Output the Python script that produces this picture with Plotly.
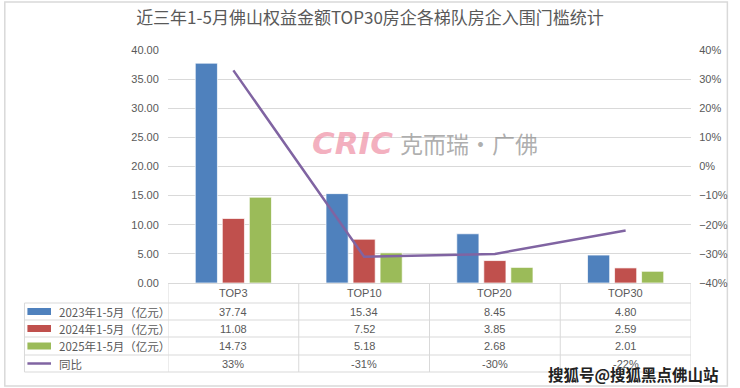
import plotly.graph_objects as go

categories = ["TOP3", "TOP10", "TOP20", "TOP30"]
series_names = ["2023年1-5月（亿元）", "2024年1-5月（亿元）", "2025年1-5月（亿元）"]
v2023 = [37.74, 15.34, 8.45, 4.80]
v2024 = [11.08, 7.52, 3.85, 2.59]
v2025 = [14.73, 5.18, 2.68, 2.01]
yoy = [0.33, -0.31, -0.30, -0.22]
yoy_name = "同比"
title = "近三年1-5月佛山权益金额TOP30房企各梯队房企入围门槛统计"

colors = ["#4F81BD", "#C0504D", "#9BBB59"]
line_color = "#8064A2"
grid = "#D9D9D9"
txt = "#595959"
FONT = "Liberation Sans, Noto Sans CJK SC, sans-serif"
CJK = "Noto Sans CJK SC, sans-serif"

W, H = 740, 388
L, R, T, B = 168, 40, 50, 105
PW, PH = W - L - R, H - T - B


def px(x):
    return (x - L) / PW


def py(y):
    return (H - B - y) / PH


fig = go.Figure()
for name, vals, c in zip(series_names, [v2023, v2024, v2025], colors):
    fig.add_trace(go.Bar(x=categories, y=vals, name=name, marker=dict(color=c, line=dict(color="rgba(255,255,255,0.7)", width=1)),
                         showlegend=False))
fig.add_trace(go.Scatter(x=categories, y=yoy, name=yoy_name, mode="lines", yaxis="y2",
                         line=dict(color=line_color, width=2.5), showlegend=False))

shapes = []
annotations = []


def note(x, y, text, size, family, color=txt, xref="paper", xanchor="center"):
    annotations.append(dict(x=x, xref=xref, y=y, yref="paper", text=text, showarrow=False,
                            xanchor=xanchor, yanchor="middle", font=dict(size=size, color=color, family=family)))


# table grid
row_lines = [303, 320, 337, 355, 372]
for yl in row_lines:
    shapes.append(dict(type="line", xref="paper", yref="paper", x0=px(22), x1=1, y0=py(yl), y1=py(yl),
                       line=dict(color=grid, width=1)))
shapes.append(dict(type="line", xref="paper", yref="paper", x0=px(22), x1=px(22), y0=py(303), y1=py(372),
                   line=dict(color=grid, width=1)))
for i in range(len(categories) + 1):
    shapes.append(dict(type="line", xref="x", yref="paper", x0=i - 0.5, x1=i - 0.5, y0=0, y1=py(372),
                       line=dict(color=grid, width=1)))

# header
for c in categories:
    note(c, py(293), c, 11, FONT, xref="x")
row_centers = [311.5, 328.5, 346, 363.5]
all_rows = [v2023, v2024, v2025]
for r, (name, vals, c) in enumerate(zip(series_names, all_rows, colors)):
    yc = row_centers[r]
    shapes.append(dict(type="rect", xref="paper", yref="paper", x0=px(25), x1=px(49), y0=py(yc - 3.5), y1=py(yc + 3.5),
                       fillcolor=c, line=dict(width=0)))
    note(px(55), py(yc), name, 11.5, CJK, xanchor="left")
    for cat, v in zip(categories, vals):
        note(cat, py(yc), f"{v:.2f}", 11, FONT, xref="x")
yc = row_centers[3]
shapes.append(dict(type="line", xref="paper", yref="paper", x0=px(25), x1=px(49), y0=py(yc), y1=py(yc),
                   line=dict(color=line_color, width=2.5)))
note(px(55), py(yc), yoy_name, 11.5, CJK, xanchor="left")
for cat, v in zip(categories, yoy):
    note(cat, py(yc), f"{v*100:.0f}%", 11, FONT, xref="x")

# outer border
shapes.append(dict(type="rect", xref="paper", yref="paper", x0=px(2), x1=px(737), y0=py(386), y1=py(2),
                   line=dict(color=grid, width=1.5), layer="below"))

# watermarks
note(px(356), py(143), "<b><i>CRIC</i></b>", 31, "DejaVu Sans, sans-serif", color="rgba(240,150,170,0.75)")
note(px(474), py(143), "克而瑞·广佛", 23, CJK, color="rgba(140,140,140,0.7)")
note(px(642), py(374), "<b>搜狐号@搜狐黑点佛山站</b>", 15.5, CJK, color="#222222")

fig.update_layout(
    width=W, height=H,
    margin=dict(l=L, r=R, t=T, b=B, pad=0),
    paper_bgcolor="white", plot_bgcolor="white",
    barmode="group", bargap=0.38, bargroupgap=0.18,
    title=dict(text=title, x=0.5, xref="container", xanchor="center", y=1 - 18 / H, yanchor="middle",
               font=dict(size=17, color=txt, family=CJK)),
    xaxis=dict(type="category", range=[-0.5, 3.5], showticklabels=False, showgrid=False, zeroline=False,
               showline=True, linecolor=grid, ticks=""),
    yaxis=dict(range=[0, 40], dtick=5, tickformat=".2f", showgrid=True, gridcolor=grid, zeroline=False,
               ticks="outside", ticklen=6, tickcolor="rgba(0,0,0,0)",
               tickfont=dict(size=11, color=txt, family=FONT), showline=False),
    yaxis2=dict(range=[-0.4, 0.4], dtick=0.1, tickformat=".0%", overlaying="y", side="right", showgrid=False,
                zeroline=False, ticks="outside", ticklen=5, tickcolor="rgba(0,0,0,0)",
                tickfont=dict(size=11, color=txt, family=FONT)),
    shapes=shapes, annotations=annotations,
)

fig.write_html("out.html", config={"displayModeBar": False},
               post_script="document.body.style.margin='0px';")
